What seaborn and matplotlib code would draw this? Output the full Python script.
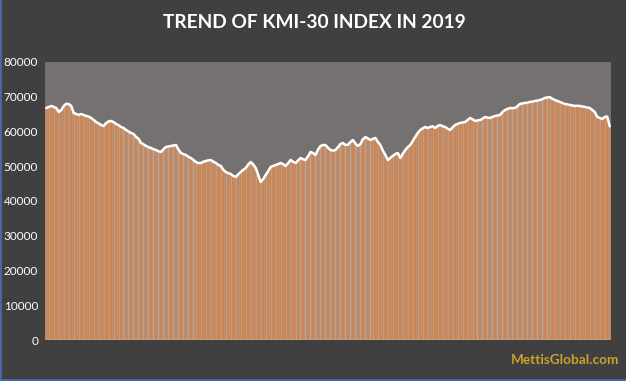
import matplotlib
matplotlib.use("Agg")
import matplotlib.pyplot as plt
import seaborn as sns
import numpy as np
import pandas as pd

# KMI-30 daily close, 2019
kmi30_close = [
    66770, 67060, 67350, 67060, 66770, 65620, 66190, 67350, 68000, 67900,
    67350, 65330, 65040, 64760, 65040, 64760, 64470, 64300, 63890, 63300,
    62740, 62300, 61880, 61590, 62450, 62900, 63030, 62700, 62160, 61800,
    61300, 61000, 60440, 60000, 59570, 59300, 58420, 57900, 56700, 56300,
    55830, 55500, 55260, 54900, 54680, 54300, 54110, 54900, 55550, 55700,
    55830, 56000, 56120, 54800, 53820, 53500, 53240, 52700, 52380, 51800,
    51230, 50900, 50940, 51300, 51520, 51700, 51800, 51300, 50940, 50400,
    50080, 49000, 48350, 48000, 47770, 47200, 46910, 47700, 48350, 49000,
    49500, 50500, 51230, 50500, 49500, 47500, 45470, 46300, 47490, 48600,
    49790, 50100, 50370, 50600, 50940, 50600, 50080, 50900, 51800, 51300,
    50940, 51700, 52380, 52000, 51800, 52900, 54110, 53800, 53240, 54800,
    55830, 56100, 56120, 55300, 54680, 54500, 54680, 55500, 56410, 56700,
    56120, 56200, 56980, 57560, 56500, 55830, 56400, 57800, 58420, 58000,
    57560, 57900, 58140, 57000, 56120, 54500, 53240, 51800, 52400, 53000,
    53500, 53800, 52380, 53600, 54680, 55500, 56120, 57300, 58420, 59600,
    60440, 60900, 61300, 61000, 61300, 61500, 61010, 61600, 61880, 61500,
    61300, 60800, 60440, 61200, 61880, 62200, 62450, 62600, 62740, 63300,
    63890, 63500, 63030, 63200, 63320, 63700, 64180, 64000, 63890, 64200,
    64470, 64600, 64760, 65600, 66190, 66500, 66770, 66700, 66770, 67300,
    67920, 68100, 68210, 68300, 68500, 68600, 68780, 68900, 69070, 69300,
    69650, 69800, 69900, 69400, 69070, 68800, 68500, 68200, 67920, 67800,
    67630, 67500, 67350, 67400, 67350, 67200, 67060, 66900, 66770, 66200,
    65620, 64200, 63890, 63600, 64180, 64300, 61500,
]
y_ticks = [0, 10000, 20000, 30000, 40000, 50000, 60000, 70000, 80000]

df = pd.DataFrame({"day": np.arange(len(kmi30_close)), "close": kmi30_close})

sns.set_theme(style="white")
plt.rcParams['font.family'] = ['Lato', 'DejaVu Sans']

fig = plt.figure(figsize=(6.26, 3.81), dpi=100, facecolor='#404040')
ax = fig.add_axes([0.072, 0.1076, 0.904, 0.7297])
ax.set_facecolor('#767171')

# bars plus a white line tracing the tops
sns.barplot(data=df, x="day", y="close", color='#BF713F', saturation=1,
            width=0.72, edgecolor='#F2CBA8', linewidth=0.35, ax=ax)
sns.lineplot(data=df, x="day", y="close", color='white', lw=1.8, ax=ax)

ax.set_xlim(-0.5, len(kmi30_close) - 0.5)
ax.set_ylim(0, 80000)
ax.set_yticks(y_ticks)
ax.set_yticklabels([str(t) for t in y_ticks], color='white', fontsize=8.5)
ax.tick_params(axis='y', length=0, pad=5)
ax.set_xticks([])
ax.set_xlabel('')
ax.set_ylabel('')
for s in ax.spines.values():
    s.set_visible(False)

fig.text(0.502, 0.942, 'TREND OF KMI-30 INDEX IN 2019', color='white',
         fontsize=13.8, fontweight='bold', ha='center', va='center')
fig.text(0.99, 0.055, 'MettisGlobal.com', color='#C9A22A', fontsize=9.8,
         fontweight='bold', ha='right', va='center')

# thin blue frame on the left and bottom edges
fig.add_artist(plt.Line2D([0.001, 0.001], [0, 1], color='#4A6FB0', lw=1.2, transform=fig.transFigure))
fig.add_artist(plt.Line2D([0, 1], [0.002, 0.002], color='#4A6FB0', lw=1.2, transform=fig.transFigure))

fig.savefig('out.png', dpi=100, facecolor=fig.get_facecolor())
